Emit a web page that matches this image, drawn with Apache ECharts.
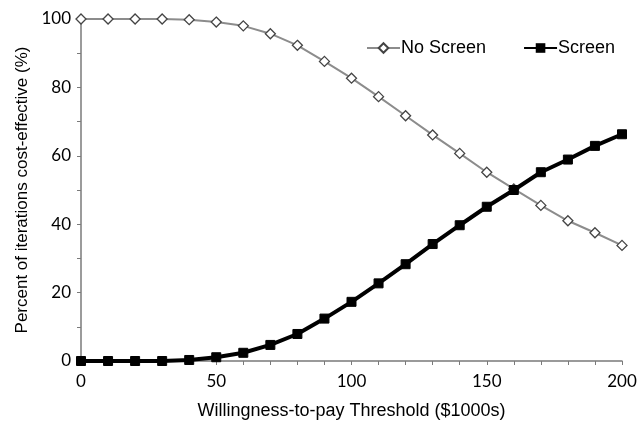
<!DOCTYPE html>
<html><head><meta charset="utf-8">
<script src="https://cdn.jsdelivr.net/npm/echarts@6/dist/echarts.min.js"></script>
<style>html,body{margin:0;padding:0;background:#fff}#c{width:644px;height:421px}</style>
</head><body><div id="c"></div>
<script>
const thresholds = [0,10,20,30,40,50,60,70,80,90,100,110,120,130,140,150,160,170,180,190,200];
const noScreen = [100,100,100,100,99.8,99.1,98.0,95.7,92.3,87.6,82.7,77.3,71.7,66.1,60.7,55.2,50.3,45.5,41.0,37.5,33.8];
const screen = [0,0,0,0,0.3,1.1,2.4,4.7,7.9,12.4,17.3,22.7,28.3,34.2,39.7,45.1,50.0,55.2,58.9,62.9,66.3];
const xLabels = [0,50,100,150,200];
const yLabels = [0,20,40,60,80,100];
const xTitle = 'Willingness-to-pay Threshold ($1000s)';
const yTitle = 'Percent of iterations cost-effective (%)';

const font = 'Liberation Sans, Arial, sans-serif';
const tickFont = 'Lato, Carlito, Calibri, sans-serif';
const chart = echarts.init(document.getElementById('c'));
chart.setOption({
  animation: false,
  grid: {left: 81, right: 22, top: 19, bottom: 60, containLabel: false, outerBoundsMode: 'none'},
  legend: {
    top: 34, left: 361, itemGap: 37, itemWidth: 33, itemHeight: 12,
    textStyle: {fontFamily: font, fontSize: 18, color: '#000', padding: [0,0,0,-4]},
    data: ['No Screen', 'Screen']
  },
  xAxis: {
    type: 'value', min: 0, max: 200, interval: 10,
    name: xTitle, nameLocation: 'middle', nameGap: 41,
    nameTextStyle: {fontFamily: font, fontSize: 18, color: '#000'},
    axisLine: {lineStyle: {color: '#7a7a7a', width: 1.5}},
    axisTick: {show: true, length: 4, lineStyle: {color: '#7a7a7a'}},
    axisLabel: {fontFamily: tickFont, fontSize: 17, color: '#000', margin: 12,
      formatter: v => xLabels.includes(v) ? String(v) : ''},
    splitLine: {show: false}
  },
  yAxis: {
    type: 'value', min: 0, max: 100, interval: 10,
    name: yTitle, nameLocation: 'middle', nameGap: 46,
    nameTextStyle: {fontFamily: font, fontSize: 17, color: '#000'},
    axisLine: {show: true, lineStyle: {color: '#7a7a7a', width: 1.5}},
    axisTick: {show: true, length: 4, lineStyle: {color: '#7a7a7a'}},
    axisLabel: {fontFamily: tickFont, fontSize: 17, color: '#000', margin: 10,
      formatter: v => yLabels.includes(v) ? String(v) : ''},
    splitLine: {show: false}
  },
  series: [
    {
      name: 'No Screen', type: 'line',
      data: thresholds.map((x, i) => [x, noScreen[i]]),
      symbol: 'diamond', symbolSize: 10,
      lineStyle: {color: '#8c8c8c', width: 2},
      itemStyle: {color: '#fff', borderColor: '#444', borderWidth: 1.3},
      z: 2
    },
    {
      name: 'Screen', type: 'line',
      data: thresholds.map((x, i) => [x, screen[i]]),
      symbol: 'rect', symbolSize: 9,
      lineStyle: {color: '#000', width: 4},
      itemStyle: {color: '#000', borderColor: '#000'},
      z: 3
    }
  ]
});
</script>
</body></html>
